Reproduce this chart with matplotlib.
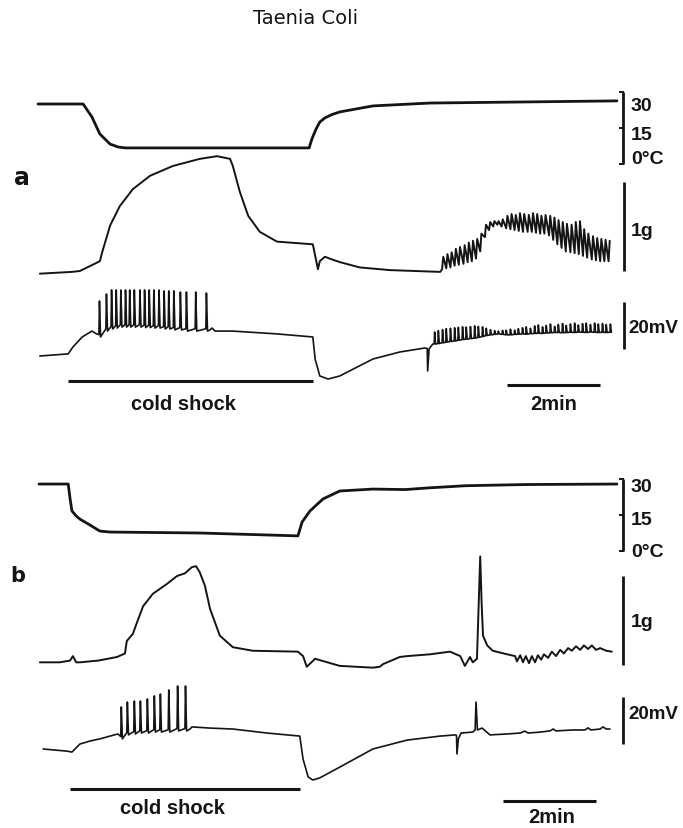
import matplotlib
matplotlib.use('Agg')
import matplotlib.pyplot as plt

# figure geometry (pixels) and time scale of the recordings
W, H = 683, 829
X0_PX = 38
PX_PER_MIN = 46.5
INK = '#141414'
LABEL_FONT = ['Liberation Sans', 'DejaVu Sans']

# ---------------- panel a ----------------
# bath temperature (deg C)
TEMP_A_T = [0.0, 0.97, 1.16, 1.33, 1.55, 1.72, 1.87, 5.83, 5.89, 5.98, 6.06, 6.17,
            6.32, 6.49, 7.20, 8.43, 12.45]
TEMP_A_C = [25.0, 25.0, 19.6, 12.5, 8.3, 7.1, 6.7, 6.7, 10.4, 14.6, 17.5, 19.2,
            20.6, 21.7, 24.2, 25.4, 26.3]

# tension (g)
FORCE_A_T = [0.04, 0.73, 0.90, 1.33, 1.38, 1.55, 1.76, 2.04, 2.41, 2.90, 3.48, 3.85,
             4.13, 4.19, 4.34, 4.52, 4.77, 5.14, 5.91, 6.02, 6.06, 6.17, 6.32, 6.49,
             6.92, 7.57, 8.65]
FORCE_A_G = [-0.03, -0.01, 0.0, 0.11, 0.21, 0.51, 0.73, 0.92, 1.07, 1.18, 1.26, 1.29,
             1.26, 1.18, 0.89, 0.62, 0.44, 0.33, 0.30, 0.02, 0.11, 0.16, 0.13, 0.10,
             0.04, 0.01, -0.01]

# phasic contractions after rewarming
OSC_A_T = [8.69, 8.78, 8.87, 8.96, 9.05, 9.15, 9.24, 9.33, 9.42, 9.51,
           9.61, 9.70, 9.79, 9.88, 9.97, 10.07, 10.16, 10.25, 10.34, 10.43,
           10.53, 10.62, 10.71, 10.80, 10.89, 10.99, 11.08, 11.17, 11.26, 11.35,
           11.45, 11.54, 11.63, 11.72, 11.81, 11.91, 12.00, 12.09, 12.18, 12.27]
OSC_A_TOP = [0.16, 0.19, 0.21, 0.25, 0.27, 0.29, 0.32, 0.34, 0.36, 0.42,
             0.52, 0.55, 0.56, 0.56, 0.58, 0.62, 0.64, 0.63, 0.65, 0.64,
             0.63, 0.65, 0.64, 0.62, 0.63, 0.62, 0.60, 0.57, 0.55, 0.53,
             0.52, 0.55, 0.56, 0.47, 0.42, 0.39, 0.37, 0.36, 0.35, 0.34]
OSC_A_LOW = [0.02, 0.03, 0.04, 0.06, 0.07, 0.08, 0.10, 0.11, 0.14, 0.22,
             0.38, 0.46, 0.50, 0.52, 0.50, 0.48, 0.47, 0.46, 0.45, 0.44,
             0.44, 0.44, 0.43, 0.42, 0.42, 0.40, 0.35, 0.30, 0.26, 0.22,
             0.21, 0.20, 0.19, 0.17, 0.15, 0.13, 0.12, 0.11, 0.11, 0.11]

# membrane potential (mV, relative to start)
VOLT_A_PRE_T = [0.04, 0.65, 0.75, 0.95, 1.16, 1.25]
VOLT_A_PRE_MV = [0.0, 0.9, 3.8, 8.1, 10.6, 9.5]
SPK_A_T = [1.31, 1.46, 1.57, 1.67, 1.77, 1.87, 1.96, 2.06, 2.18, 2.28,
           2.38, 2.48, 2.59, 2.70, 2.80, 2.91, 3.05, 3.18, 3.38, 3.61]
SPK_A_TOP = [23.4, 26.4, 28.1, 28.1, 28.1, 28.1, 28.1, 28.1, 28.1, 28.1,
             28.1, 28.1, 28.1, 27.7, 27.7, 27.7, 27.2, 27.2, 27.2, 26.8]
SPK_A_FLOOR = [8.1, 10.6, 11.5, 11.9, 12.3, 12.3, 12.3, 12.3, 12.3, 12.1,
               12.1, 11.9, 11.9, 11.5, 11.5, 11.1, 11.1, 10.6, 10.6, 10.6]
VOLT_A_MID_T = [3.70, 3.74, 3.81, 4.19, 5.14, 5.91, 5.96, 6.06, 6.24, 6.49, 7.20,
                7.78, 8.32, 8.37, 8.38, 8.41, 8.49]
VOLT_A_MID_MV = [11.1, 11.9, 10.6, 10.6, 9.4, 8.1, -1.3, -8.5, -9.8, -8.5, -1.3,
                 1.7, 3.4, 3.2, -6.4, 3.0, 5.1]
TRAIN_A_T = [8.52, 8.60, 8.69, 8.77, 8.86, 8.95, 9.03, 9.12, 9.20, 9.29,
             9.38, 9.46, 9.55, 9.63, 9.72, 9.81, 9.89, 9.98, 10.06, 10.15,
             10.24, 10.32, 10.41, 10.49, 10.58, 10.67, 10.75, 10.84, 10.92, 11.01,
             11.10, 11.18, 11.27, 11.35, 11.44, 11.53, 11.61, 11.70, 11.78, 11.87,
             11.96, 12.04, 12.13, 12.21, 12.30]
TRAIN_A_BASE = [5.1, 5.3, 5.6, 5.9, 6.2, 6.4, 6.7, 7.0, 7.2, 7.4,
                7.6, 7.9, 8.3, 8.7, 9.0, 9.2, 9.4, 9.2, 9.0, 9.0,
                9.2, 9.3, 9.4, 9.3, 9.5, 9.6, 9.7, 9.6, 9.8, 9.9,
                10.0, 10.0, 9.9, 10.0, 10.1, 10.0, 10.2, 10.1, 10.0, 10.2,
                10.1, 10.0, 10.1, 10.0, 10.1]
TRAIN_A_TOP = [10.2, 10.8, 11.2, 11.6, 11.8, 12.0, 12.2, 12.4, 12.3, 12.5,
               12.8, 12.6, 12.4, 11.8, 11.2, 10.8, 10.6, 10.9, 11.0, 11.4,
               11.0, 11.6, 12.0, 12.4, 11.8, 12.8, 13.2, 12.4, 13.0, 13.6,
               12.6, 13.4, 13.8, 13.0, 13.6, 14.0, 13.2, 13.8, 14.0, 13.4,
               14.0, 13.6, 13.8, 13.4, 13.6]

# ---------------- panel b ----------------
TEMP_B_T = [0.02, 0.65, 0.69, 0.73, 0.82, 0.90, 1.12, 1.33, 1.55, 3.48, 5.59, 5.68,
            5.85, 6.13, 6.49, 7.20, 7.90, 8.40, 9.20, 10.50, 12.45]
TEMP_B_C = [27.9, 27.9, 21.7, 16.7, 14.6, 13.3, 10.8, 8.3, 7.9, 7.5, 6.3, 12.1,
            16.7, 21.7, 25.0, 25.8, 25.6, 26.3, 27.2, 27.7, 27.9]

FORCE_B_T = [0.04, 0.47, 0.69, 0.75, 0.82, 0.90, 1.30, 1.70, 1.87, 1.91,
             2.04, 2.13, 2.26, 2.47, 2.77, 2.99, 3.16, 3.31, 3.40, 3.48,
             3.59, 3.70, 3.91, 4.19, 4.62, 5.59, 5.70, 5.78, 5.96, 6.49,
             7.20, 7.35, 7.42, 7.78, 7.94, 8.43, 8.86, 9.08, 9.18, 9.29,
             9.35, 9.44, 9.51, 9.54, 9.57, 9.66, 9.78, 10.09, 10.26, 10.30,
             10.37, 10.43, 10.49, 10.56, 10.62, 10.69, 10.75, 10.82, 10.88, 10.97,
             11.05, 11.14, 11.23, 11.31, 11.40, 11.48, 11.57, 11.66, 11.74, 11.83,
             11.91, 12.00, 12.09, 12.22, 12.34]
FORCE_B_G = [0.03, 0.03, 0.05, 0.10, 0.03, 0.03, 0.05, 0.09, 0.13, 0.27,
             0.35, 0.48, 0.66, 0.80, 0.91, 1.00, 1.03, 1.10, 1.11, 1.04,
             0.89, 0.63, 0.33, 0.20, 0.16, 0.15, 0.10, -0.02, 0.07, -0.01,
             -0.03, -0.02, 0.01, 0.09, 0.10, 0.12, 0.15, 0.10, -0.01, 0.09,
             0.03, 0.07, 1.22, 0.70, 0.33, 0.22, 0.16, 0.12, 0.10, 0.04,
             0.11, 0.03, 0.10, 0.02, 0.10, 0.03, 0.11, 0.06, 0.12, 0.08,
             0.15, 0.10, 0.17, 0.13, 0.19, 0.16, 0.21, 0.17, 0.22, 0.18,
             0.22, 0.17, 0.19, 0.16, 0.15]

VOLT_B_PRE_T = [0.11, 0.62, 0.73, 0.90, 1.12, 1.33, 1.55, 1.72]
VOLT_B_PRE_MV = [0.0, -0.9, -1.3, 2.1, 3.4, 4.3, 5.5, 6.4]
SPK_B_T = [1.78, 1.91, 2.06, 2.19, 2.34, 2.49, 2.62, 2.80, 2.99, 3.16]
SPK_B_TOP = [17.9, 20.0, 20.4, 20.4, 21.3, 22.6, 23.4, 25.1, 26.8, 26.8]
SPK_B_FLOOR = [4.3, 6.0, 6.4, 6.8, 6.8, 7.2, 7.2, 7.2, 7.7, 7.7]
VOLT_B_POST_T = [3.27, 3.31, 3.70, 4.19, 4.92, 5.63, 5.70, 5.81, 5.91, 6.06,
                 6.49, 7.20, 7.94, 8.65, 8.97, 9.00, 9.01, 9.04, 9.10, 9.35,
                 9.40, 9.42, 9.45, 9.55, 9.72, 10.09, 10.37, 10.47, 10.54, 10.80,
                 11.01, 11.08, 11.14, 11.51, 11.76, 11.83, 11.89, 12.09, 12.15, 12.22,
                 12.30]
VOLT_B_POST_MV = [8.5, 9.4, 8.9, 8.5, 6.8, 5.5, -4.3, -11.9, -13.2, -12.3,
                  -7.7, 0.0, 3.8, 5.5, 6.0, 5.8, -2.1, 4.3, 6.8, 7.2,
                  8.1, 20.0, 8.1, 8.9, 6.0, 6.4, 6.8, 7.6, 6.8, 7.2,
                  7.7, 8.5, 7.7, 8.1, 8.1, 9.0, 8.1, 8.5, 9.4, 8.5,
                  8.5]

# stimulus / time bars (minutes)
COLD_A = [0.65, 5.91]
COLD_B = [0.69, 5.63]
TWO_MIN_A = [10.09, 12.09]
TWO_MIN_B = [10.00, 12.00]


fig = plt.figure(figsize=(W / 100, H / 100), dpi=100)


def trace_axes(zero_px, px_per_unit):
    """Full-figure transparent axes whose y unit maps onto one trace."""
    ax = fig.add_axes([0, 0, 1, 1])
    ax.set_xlim(-X0_PX / PX_PER_MIN, (W - X0_PX) / PX_PER_MIN)
    ax.set_ylim((zero_px - H) / px_per_unit, zero_px / px_per_unit)
    ax.set_axis_off()
    ax.patch.set_alpha(0)
    return ax


def spike_points(t, top, floor, rise=0.012, fall=0.035, pre=1.0):
    """Sharp upstroke to top, quick return to floor."""
    xs, ys = [], []
    for ti, hi, lo in zip(t, top, floor):
        xs += [ti, ti + rise]
        ys += [lo + pre, hi]
        if fall is not None:
            xs.append(ti + fall)
            ys.append(lo)
    return xs, ys


def scale_bar(ax, t, lo, hi, ticks=()):
    ax.plot([t, t], [lo, hi], color=INK, lw=2.0, solid_capstyle='butt')
    for v in ticks:
        ax.plot([t - 0.07, t], [v, v], color=INK, lw=1.4)


def label(ax, t, v, s, size=14):
    ax.text(t, v, s, ha='left', va='center', fontsize=size, family=LABEL_FONT,
            fontweight='bold', color=INK)


def hbar(ax, span, v, text, v_text, t_text):
    ax.plot(span, [v, v], color=INK, lw=2.2, solid_capstyle='butt')
    ax.text(t_text, v_text, text, ha='center', va='center', fontsize=14.5,
            family=LABEL_FONT, fontweight='bold', color=INK)


style = dict(color=INK, solid_joinstyle='round', solid_capstyle='round')
BAR_T = 12.58
LAB_T = 12.75

# ---- panel a ----
ax = trace_axes(165, 2.4)
ax.plot(TEMP_A_T, TEMP_A_C, lw=2.0, **style)
scale_bar(ax, BAR_T, 0, 30, ticks=(0, 15, 30))
label(ax, LAB_T, 24.2, '30')
label(ax, LAB_T, 12.5, '15')
label(ax, LAB_T, 2.1, '0°C')

ax = trace_axes(272, 89)
ox, oy = spike_points(OSC_A_T, OSC_A_TOP, OSC_A_LOW, rise=0.025, fall=None, pre=0)
ax.plot(FORCE_A_T + ox, FORCE_A_G + oy, lw=1.4, **style)
scale_bar(ax, BAR_T + 0.02, 0, 1)
label(ax, LAB_T, 0.45, '1g')

ax = trace_axes(357, 2.35)
sx, sy = spike_points(SPK_A_T, SPK_A_TOP, SPK_A_FLOOR)
tx, ty = spike_points(TRAIN_A_T, TRAIN_A_TOP, TRAIN_A_BASE, rise=0.01, fall=0.03, pre=0)
ax.plot(VOLT_A_PRE_T + sx + VOLT_A_MID_T + tx,
        VOLT_A_PRE_MV + sy + VOLT_A_MID_MV + ty, lw=1.2, **style)
scale_bar(ax, BAR_T + 0.02, 3.0, 23.0)
label(ax, LAB_T - 0.06, 12.3, '20mV', size=13.5)
hbar(ax, COLD_A, -10.6, 'cold shock', -20.4, 3.12)
hbar(ax, TWO_MIN_A, -12.3, '2min', -20.4, 11.08)

# ---- panel b ----
ax = trace_axes(552, 2.4)
ax.plot(TEMP_B_T, TEMP_B_C, lw=2.0, **style)
scale_bar(ax, BAR_T, 0, 30, ticks=(0, 15, 30))
label(ax, LAB_T, 26.7, '30')
label(ax, LAB_T, 13.3, '15')
label(ax, LAB_T, -0.4, '0°C')

ax = trace_axes(666, 89)
ax.plot(FORCE_B_T, FORCE_B_G, lw=1.4, **style)
scale_bar(ax, BAR_T, 0, 1)
label(ax, LAB_T, 0.49, '1g')

ax = trace_axes(750, 2.35)
sx, sy = spike_points(SPK_B_T, SPK_B_TOP, SPK_B_FLOOR)
ax.plot(VOLT_B_PRE_T + sx + VOLT_B_POST_T, VOLT_B_PRE_MV + sy + VOLT_B_POST_MV,
        lw=1.2, **style)
scale_bar(ax, BAR_T, 2.1, 22.1)
label(ax, LAB_T - 0.06, 14.9, '20mV', size=13.5)
hbar(ax, COLD_B, -17.0, 'cold shock', -25.1, 2.90)
hbar(ax, TWO_MIN_B, -22.1, '2min', -28.9, 11.05)

# titles and panel letters
fig.text(306 / W, 1 - 18 / H, 'Taenia Coli', ha='center', va='center',
         fontsize=14, color=INK)
fig.text(22 / W, 1 - 178 / H, 'a', ha='center', va='center', fontsize=17,
         fontweight='bold', color=INK)
fig.text(18 / W, 1 - 576 / H, 'b', ha='center', va='center', fontsize=15,
         fontweight='bold', color=INK)

fig.savefig('out.png', dpi=100, facecolor='white')
